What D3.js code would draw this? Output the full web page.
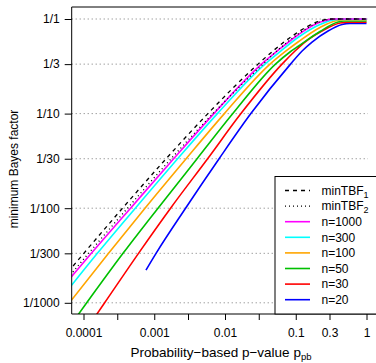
<!DOCTYPE html>
<html>
<head>
<meta charset="utf-8">
<script src="https://cdn.jsdelivr.net/npm/d3@7"></script>
<style>
  body { margin: 0; background: #fff; }
  svg { display: block; font-family: "Liberation Sans", Arial, Helvetica, sans-serif; }
</style>
</head>
<body>
<svg id="chart" width="376" height="363"></svg>
<script>
// axis ticks
var xTicks = [1e-4, 3e-4, 1e-3, 3e-3, 0.01, 0.03, 0.1, 0.3, 1];
var xLabels = ["0.0001", "", "0.001", "", "0.01", "", "0.1", "0.3", "1"];
var yTicks = [1, 1/3, 1/10, 1/30, 1/100, 1/300, 1/1000];
var yLabels = ["1/1", "1/3", "1/10", "1/30", "1/100", "1/300", "1/1000"];

// curves (p value, minimum Bayes factor)
var tbf1P  = [2.61e-5, 1.01e-4, 3.56e-4, 1.47e-3, 5.73e-3, 0.0293, 0.05, 0.1, 0.2, 0.3, 0.317, 1];
var tbf1BF = [0.001, 1/300, 0.01, 1/30, 0.1, 1/3, 0.473, 0.701, 0.930, 0.999, 1, 1];
var tbf2P  = [3.07e-5, 1.18e-4, 4.19e-4, 1.73e-3, 6.75e-3, 0.0344, 0.0571, 0.109, 0.210, 0.325, 0.367, 1];
var tbf2BF = [0.001, 1/300, 0.01, 1/30, 0.1, 1/3, 0.476, 0.698, 0.923, 0.998, 1, 1];
var n1000P  = [3.3e-5, 1.29e-4, 4.62e-4, 1.88e-3, 6.97e-3, 0.0328, 0.0561, 0.110, 0.213, 0.336, 0.371, 1];
var n1000BF = [0.001, 1/300, 0.01, 1/30, 0.1, 1/3, 0.465, 0.686, 0.916, 0.998, 1, 1];
var n300P  = [4.32e-5, 1.57e-4, 5.40e-4, 2.14e-3, 7.81e-3, 0.0367, 0.0629, 0.110, 0.220, 0.359, 0.422, 1];
var n300BF = [0.001, 1/300, 0.01, 1/30, 0.1, 1/3, 0.465, 0.645, 0.875, 0.985, 0.990, 0.990];
var n100P  = [6.32e-5, 2.26e-4, 7.40e-4, 2.82e-3, 9.80e-3, 0.0433, 0.0728, 0.110, 0.220, 0.383, 0.450, 1];
var n100BF = [0.001, 1/300, 0.01, 1/30, 0.1, 1/3, 0.459, 0.578, 0.813, 0.964, 0.976, 0.976];
var n50P  = [6.45e-5, 1.11e-4, 3.62e-4, 1.13e-3, 4.03e-3, 0.0129, 0.0517, 0.0829, 0.110, 0.220, 0.396, 0.481, 1];
var n50BF = [5.69e-4, 0.001, 1/300, 0.01, 1/30, 0.1, 1/3, 0.448, 0.518, 0.738, 0.930, 0.952, 0.952];
var n30P  = [1.24e-4, 1.99e-4, 5.99e-4, 1.70e-3, 5.68e-3, 0.0168, 0.0639, 0.0976, 0.135, 0.235, 0.422, 0.548, 1];
var n30BF = [5.97e-4, 0.001, 1/300, 0.01, 1/30, 0.1, 1/3, 0.459, 0.571, 0.747, 0.907, 0.925, 0.925];
var n20P  = [7.64e-4, 1.06e-3, 2.77e-3, 8.25e-3, 0.0232, 0.0843, 0.123, 0.170, 0.286, 0.450, 0.584, 1];
var n20BF = [2.22e-3, 1/300, 0.01, 1/30, 0.1, 1/3, 0.459, 0.571, 0.747, 0.875, 0.900, 0.900];

var series = [
    {name: "n=20",   p: n20P,   bf: n20BF,   color: "#0000ff", dash: null},
    {name: "n=30",   p: n30P,   bf: n30BF,   color: "#ff0000", dash: null},
    {name: "n=50",   p: n50P,   bf: n50BF,   color: "#00c000", dash: null},
    {name: "n=100",  p: n100P,  bf: n100BF,  color: "#ffa500", dash: null},
    {name: "n=300",  p: n300P,  bf: n300BF,  color: "#00ffff", dash: null},
    {name: "n=1000", p: n1000P, bf: n1000BF, color: "#ff00ff", dash: null},
    {name: "minTBF", sub: "2", p: tbf2P, bf: tbf2BF, color: "#000", dash: "1,3"},
    {name: "minTBF", sub: "1", p: tbf1P, bf: tbf1BF, color: "#000", dash: "4,4"}
];

// plot box edges
var boxL = 71.7, boxT = 7, boxB = 314, boxR = 376;

var x = d3.scaleLog().domain([1e-4, 1]).range([83.5, 366.5]);
var y = d3.scaleLog().domain([1e-3, 1]).range([302.8, 19]);

var svg = d3.select("#chart");

svg.append("clipPath").attr("id", "clip")
    .append("rect")
    .attr("x", boxL).attr("y", boxT)
    .attr("width", boxR - boxL).attr("height", boxB - boxT);

// dotted grid lines
svg.append("g").selectAll("line")
    .data(yTicks)
    .enter()
    .append("line")
    .attr("x1", boxL).attr("x2", x(1) + 1.5)
    .attr("y1", d => y(d)).attr("y2", d => y(d))
    .attr("stroke", "#777")
    .attr("stroke-dasharray", "1,3");

var line = d3.line()
    .x(d => x(d[0]))
    .y(d => y(d[1]))
    .curve(d3.curveMonotoneX);

svg.append("g").attr("clip-path", "url(#clip)")
    .selectAll("path")
    .data(series)
    .enter()
    .append("path")
    .attr("d", s => line(s.p.map((p, i) => [p, s.bf[i]])))
    .attr("fill", "none")
    .attr("stroke", s => s.color)
    .attr("stroke-width", s => s.dash ? 1.3 : 1.6)
    .attr("stroke-dasharray", s => s.dash);

// axes
var xAxis = svg.append("g")
    .attr("transform", `translate(0,${boxB})`)
    .call(d3.axisBottom(x).tickValues(xTicks)
        .tickFormat((d, i) => xLabels[i]).tickSize(6).tickPadding(8));
var yAxis = svg.append("g")
    .attr("transform", `translate(${boxL},0)`)
    .call(d3.axisLeft(y).tickValues(yTicks)
        .tickFormat((d, i) => yLabels[i]).tickSize(7).tickPadding(5));
[xAxis, yAxis].forEach(g => {
    g.select(".domain").remove();
    g.selectAll("text").attr("font-size", 12).attr("fill", "#000")
        .attr("font-family", "Liberation Sans, Arial, sans-serif");
    g.selectAll("line").attr("stroke", "#000");
});

// frame: left, top and bottom
svg.append("path")
    .attr("d", `M${boxR},${boxT}H${boxL}V${boxB}H${boxR}`)
    .attr("fill", "none")
    .attr("stroke", "#000");

// titles
var xt = svg.append("text")
    .attr("x", 221).attr("y", 357)
    .attr("text-anchor", "middle")
    .attr("font-size", 13.5)
    .text("Probability\u2212based p\u2212value p");
xt.append("tspan").attr("font-size", 9.5).attr("dy", 3).text("pb");

svg.append("text")
    .attr("transform", "translate(18,169) rotate(-90)")
    .attr("text-anchor", "middle")
    .attr("font-size", 12)
    .text("minimum Bayes factor");

// legend
var leg = svg.append("g");
leg.append("rect")
    .attr("x", 275).attr("y", 176.5)
    .attr("width", 120).attr("height", boxB - 176.5)
    .attr("fill", "#fff").attr("stroke", "#000");
var rows = leg.selectAll("g.row")
    .data(series.slice().reverse())
    .enter()
    .append("g")
    .attr("class", "row")
    .attr("transform", (d, i) => `translate(0,${190.5 + i * 15.6})`);
rows.append("line")
    .attr("x1", 285).attr("x2", 310)
    .attr("stroke", d => d.color)
    .attr("stroke-width", d => d.dash ? 1.3 : 1.6)
    .attr("stroke-dasharray", d => d.dash);
var lt = rows.append("text")
    .attr("x", 321.5).attr("dy", "0.35em")
    .attr("font-size", 12)
    .text(d => d.name);
lt.filter(d => d.sub)
    .append("tspan").attr("font-size", 9).attr("dy", 3)
    .text(d => d.sub);
</script>
</body>
</html>
